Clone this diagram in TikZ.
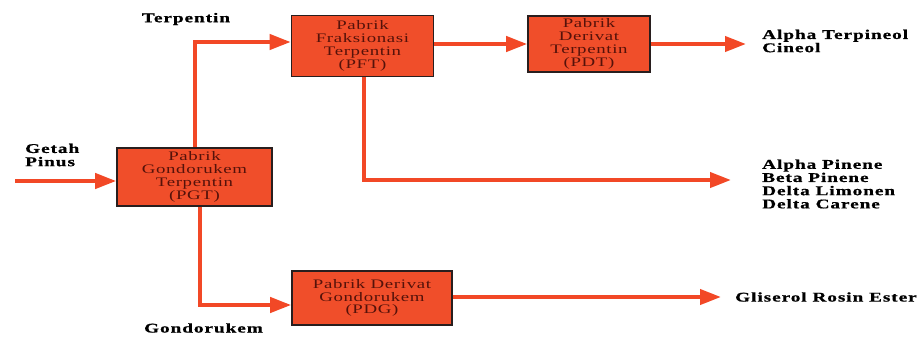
\documentclass[tikz,border=0pt]{standalone}
\usepackage{fontspec}
\usetikzlibrary{arrows.meta}
\newfontfamily\boxfont[FakeStretch=1.45,LetterSpace=5]{Liberation Serif}
\newfontfamily\lblfont[FakeStretch=1.45,LetterSpace=7,FakeBold=0.8]{Liberation Serif}
\definecolor{boxfill}{RGB}{240,78,42}
\definecolor{arrcol}{RGB}{242,72,38}
\definecolor{boxtext}{RGB}{85,18,10}
\definecolor{boxline}{RGB}{40,30,30}
\tikzset{
  plant/.style={draw=boxline,line width=1.6pt,fill=boxfill,inner sep=0pt,align=center,
    font=\boxfont\fontsize{13}{12.8}\selectfont,text=boxtext},
  flow/.style={draw=arrcol,line width=4pt,-{Triangle[length=21pt,width=15pt]}},
  lbl/.style={font=\lblfont\bfseries\fontsize{13.3}{13.2}\selectfont,text=black,inner sep=0pt,align=left}
}
\begin{document}
\begin{tikzpicture}[x=1pt,y=-1pt]
\useasboundingbox[fill=white] (0,0) rectangle (921,349);
% plants
\node[plant,minimum width=155pt,minimum height=58pt] (PGT) at (194.5,177) {Pabrik\\Gondorukem\\Terpentin\\(PGT)};
\node[plant,minimum width=142pt,minimum height=61pt] (PFT) at (362.5,46) {Pabrik\\Fraksionasi\\Terpentin\\(PFT)};
\node[plant,minimum width=122pt,minimum height=56pt] (PDT) at (589,44) {Pabrik\\Derivat\\Terpentin\\(PDT)};
\node[plant,minimum width=160pt,minimum height=54pt] (PDG) at (372,298) {Pabrik Derivat\\Gondorukem\\(PDG)};
% free ends
\coordinate (src) at (15,181);
\coordinate (o1) at (746,44);
\coordinate (o2) at (731,180);
\coordinate (o3) at (721,297);
% flows
\draw[flow] (src) -- (src -| PGT.west);
\draw[flow] (PGT.north) |- ([yshift=4pt]PFT.west);
\draw[flow] (PFT.east |- PDT.west) -- (PDT.west);
\draw[flow] (PDT.east) -- (o1);
\draw[flow] ([xshift=1.5pt]PFT.south) |- (o2);
\draw[flow] ([xshift=5.5pt]PGT.south) |- ([yshift=-7pt]PDG.west);
\draw[flow] (PDG.east |- o3) -- (o3);
% labels
\node[lbl] (lterp) at (186,19) {Terpentin};
\node[lbl,anchor=west] (lgetah) at (25,155) {Getah\\Pinus};
\node[lbl] (lgond) at (203.5,328) {Gondorukem};
\node[lbl,anchor=west] (lout1) at (762,41) {Alpha Terpineol\\Cineol};
\node[lbl,anchor=west] (lout2) at (762,184) {Alpha Pinene\\Beta Pinene\\Delta Limonen\\Delta Carene};
\node[lbl,anchor=west] (lout3) at (735,297) {Gliserol Rosin Ester};
\end{tikzpicture}
\end{document}
